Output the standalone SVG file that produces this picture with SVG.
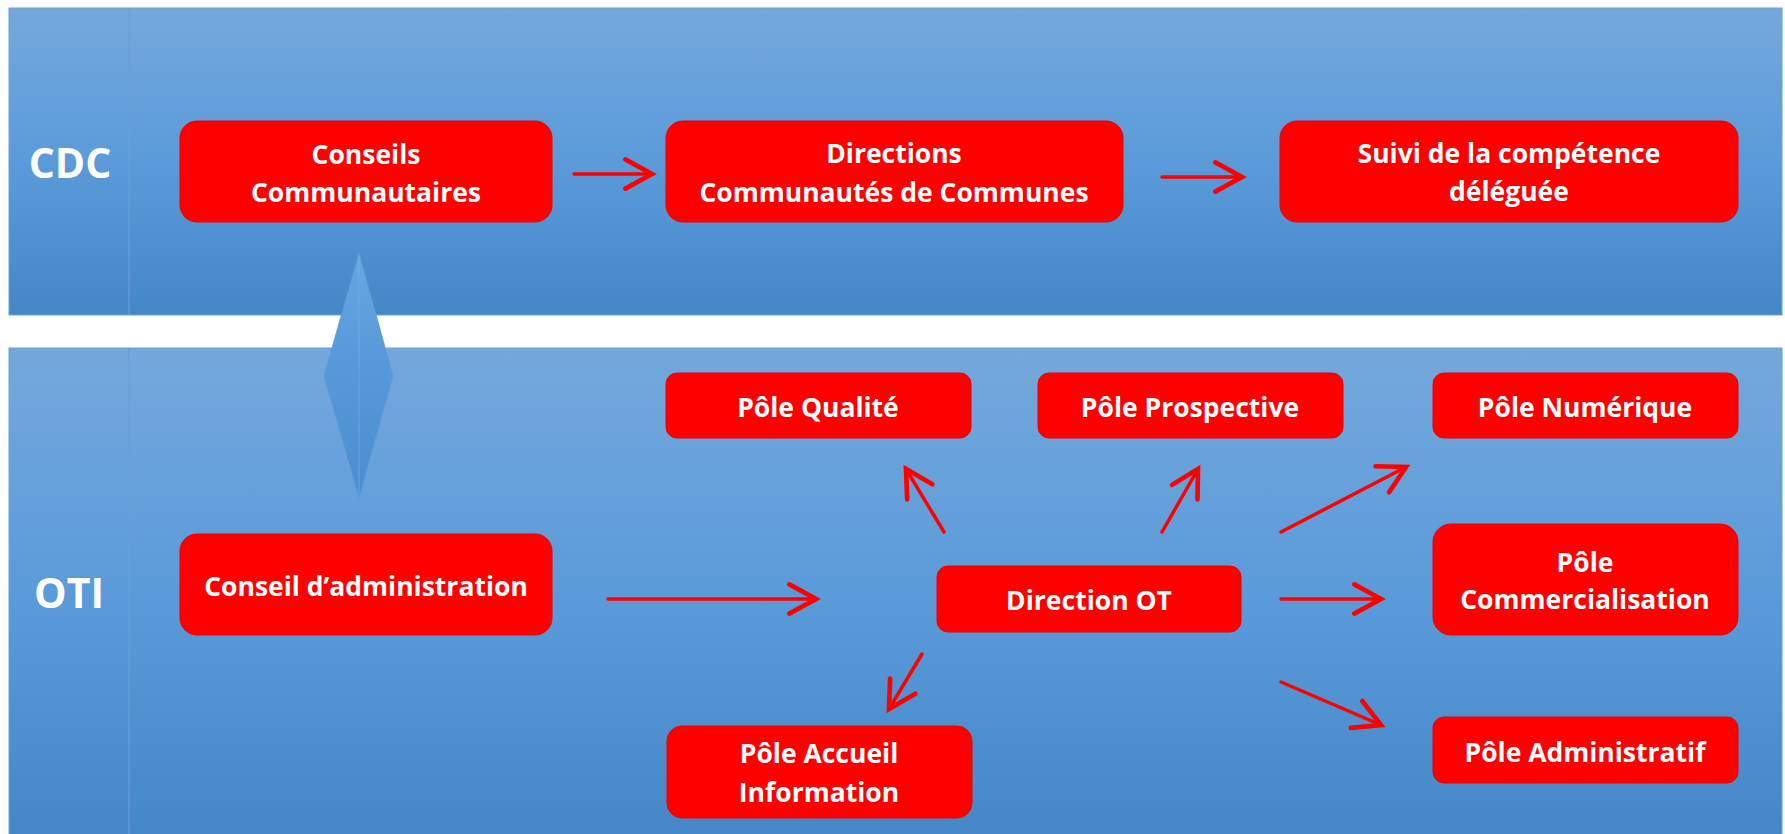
<svg xmlns="http://www.w3.org/2000/svg" width="1785" height="834" viewBox="0 0 1785 834">
<defs>
<linearGradient id="bandTop" x1="0" y1="0" x2="0" y2="1">
<stop offset="0" stop-color="#74a8dc"/>
<stop offset="0.5" stop-color="#5b9bd9"/>
<stop offset="1" stop-color="#4487c7"/>
</linearGradient>
<linearGradient id="diam" x1="0" y1="0" x2="0" y2="1">
<stop offset="0" stop-color="#68a7e0"/>
<stop offset="0.45" stop-color="#5799d9"/>
<stop offset="1" stop-color="#4a8ecd"/>
</linearGradient>
<marker id="ah" markerUnits="userSpaceOnUse" markerWidth="40" markerHeight="40" viewBox="-25 -15 30 30" refX="0" refY="0" orient="auto" overflow="visible">
<path d="M-20,-11 L0,0 L-20,11" fill="none" stroke="#ff0000" stroke-width="3.5" stroke-linecap="round" stroke-linejoin="miter"/>
</marker>
</defs>
<style>
.band{fill:url(#bandTop);stroke:#6b9fd4;stroke-width:1}
.box{fill:#ff0000;stroke:#ee0000;stroke-width:1}
.t{font-family:"Open Sans","Liberation Sans",sans-serif;font-weight:bold;font-size:26.5px;fill:#ffffff;text-anchor:middle}
.lab{font-family:"Open Sans","Liberation Sans",sans-serif;font-weight:bold;font-size:41px;fill:#ffffff;text-anchor:middle}
.c{fill:none;stroke:#ff0000;stroke-width:3.5;stroke-linecap:round;marker-end:url(#ah)}
</style>
<rect width="1785" height="834" fill="#ffffff"/>
<g id="band-cdc">
<rect class="band" x="9" y="8" width="1773" height="307"/>
<line x1="129" y1="8" x2="129" y2="315" stroke="#6a9fd6" stroke-width="1.2"/>
<text class="lab" x="70" y="178">CDC</text>
</g>
<g id="band-oti">
<rect class="band" x="9" y="348" width="1773" height="490"/>
<line x1="129" y1="348" x2="129" y2="834" stroke="#6a9fd6" stroke-width="1.2"/>
<text class="lab" x="69" y="608">OTI</text>
</g>
<g id="link-cdc-oti">
<polygon points="359,253 393,376 359,498 324,376" fill="url(#diam)" stroke="#5f9ad3" stroke-width="0.8"/>
<line x1="359" y1="256" x2="359" y2="494" stroke="#74b0e6" stroke-width="1" opacity="0.7"/>
</g>
<g id="connectors">
<line class="c" x1="574" y1="174" x2="652" y2="174"/>
<line class="c" x1="1162" y1="177" x2="1242" y2="177"/>
<line class="c" x1="608" y1="599" x2="816" y2="599"/>
<line class="c" x1="944" y1="532" x2="906" y2="469"/>
<line class="c" x1="1162" y1="532" x2="1198" y2="469"/>
<line class="c" x1="922" y1="654" x2="889" y2="709"/>
<line class="c" x1="1281" y1="532" x2="1406" y2="467"/>
<line class="c" x1="1281" y1="599" x2="1381" y2="599"/>
<line class="c" x1="1281" y1="682" x2="1381" y2="725"/>
</g>
<g id="n-conseils">
<rect class="box" x="180" y="121" width="372" height="101" rx="17"/>
<text class="t" x="366" y="164">Conseils</text>
<text class="t" x="366" y="202">Communautaires</text>
</g>
<g id="n-directions">
<rect class="box" x="666" y="121" width="457" height="101" rx="17"/>
<text class="t" x="894" y="163">Directions</text>
<text class="t" x="894" y="202">Communautés de Communes</text>
</g>
<g id="n-suivi">
<rect class="box" x="1280" y="121" width="458" height="101" rx="17"/>
<text class="t" x="1509" y="163">Suivi de la compétence</text>
<text class="t" x="1509" y="201">déléguée</text>
</g>
<g id="n-conseil-admin">
<rect class="box" x="180" y="534" width="372" height="101" rx="17"/>
<text class="t" x="366" y="596">Conseil d’administration</text>
</g>
<g id="n-qualite">
<rect class="box" x="666" y="373" width="305" height="65" rx="11"/>
<text class="t" x="818" y="417">Pôle Qualité</text>
</g>
<g id="n-prospective">
<rect class="box" x="1038" y="373" width="305" height="65" rx="11"/>
<text class="t" x="1190" y="417">Pôle Prospective</text>
</g>
<g id="n-numerique">
<rect class="box" x="1433" y="373" width="305" height="65" rx="11"/>
<text class="t" x="1585" y="417">Pôle Numérique</text>
</g>
<g id="n-direction-ot">
<rect class="box" x="937" y="566" width="304" height="66" rx="11"/>
<text class="t" x="1089" y="610">Direction OT</text>
</g>
<g id="n-commercialisation">
<rect class="box" x="1433" y="524" width="305" height="111" rx="18"/>
<text class="t" x="1585" y="572">Pôle</text>
<text class="t" x="1585" y="609">Commercialisation</text>
</g>
<g id="n-administratif">
<rect class="box" x="1433" y="717" width="305" height="66" rx="11"/>
<text class="t" x="1585" y="762">Pôle Administratif</text>
</g>
<g id="n-accueil">
<rect class="box" x="667" y="726" width="305" height="92" rx="15"/>
<text class="t" x="819" y="763">Pôle Accueil</text>
<text class="t" x="819" y="802">Information</text>
</g>
</svg>
